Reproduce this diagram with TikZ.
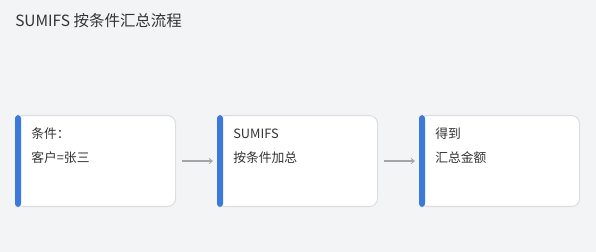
\documentclass[tikz,border=0pt]{standalone}
\usepackage{fontspec}
\setmainfont{Noto Sans CJK SC}
\usetikzlibrary{arrows.meta}
\definecolor{bg}{HTML}{F3F4F6}
\definecolor{bordergray}{HTML}{DCDEE2}
\definecolor{barblue}{HTML}{3D78DB}
\definecolor{txt}{HTML}{333333}
\definecolor{arrowgray}{HTML}{A3A5A8}
\tikzset{
  card/.style={draw=bordergray, line width=0.8pt, fill=white, rounded corners=6pt, minimum width=120pt, minimum height=68.25pt, inner sep=0pt},
  linetxt/.style={anchor=west, text=txt, font=\fontsize{9.6pt}{11pt}\selectfont, inner sep=0pt},
  flow/.style={draw=arrowgray, line width=1.1pt, -{Straight Barb[length=2.5pt,width=4pt,line width=0.6pt]}},
}
\begin{document}
\begin{tikzpicture}[x=0.75pt,y=-0.75pt]
\fill[bg] (0,0) rectangle (596,252);
\useasboundingbox (0,0) rectangle (596,252);
\node[anchor=west, text=txt, font=\fontsize{11.6pt}{13pt}\selectfont, inner sep=0pt] (title) at (15,21) {SUMIFS 按条件汇总流程};
% cards
\node[card, anchor=north west] (c1) at (15,115) {};
\node[card, anchor=north west] (c2) at (217,115) {};
\node[card, anchor=north west] (c3) at (419,115) {};
\foreach \c in {c1,c2,c3}{
  \fill[barblue, rounded corners=2.5pt] (\c.north west) rectangle ([xshift=4.5pt]\c.south west);
}
\node[linetxt] (t1a) at (31,134) {条件：};
\node[linetxt] (t1b) at (31,158) {客户=张三};
\node[linetxt] (t2a) at (233,134) {SUMIFS};
\node[linetxt] (t2b) at (233,158) {按条件加总};
\node[linetxt] (t3a) at (435,134) {得到};
\node[linetxt] (t3b) at (435,158) {汇总金额};
\draw[flow] ([xshift=4.5pt]c1.east) -- ([xshift=-3pt]c2.west);
\draw[flow] ([xshift=4.5pt]c2.east) -- ([xshift=-3pt]c3.west);
\end{tikzpicture}
\end{document}
